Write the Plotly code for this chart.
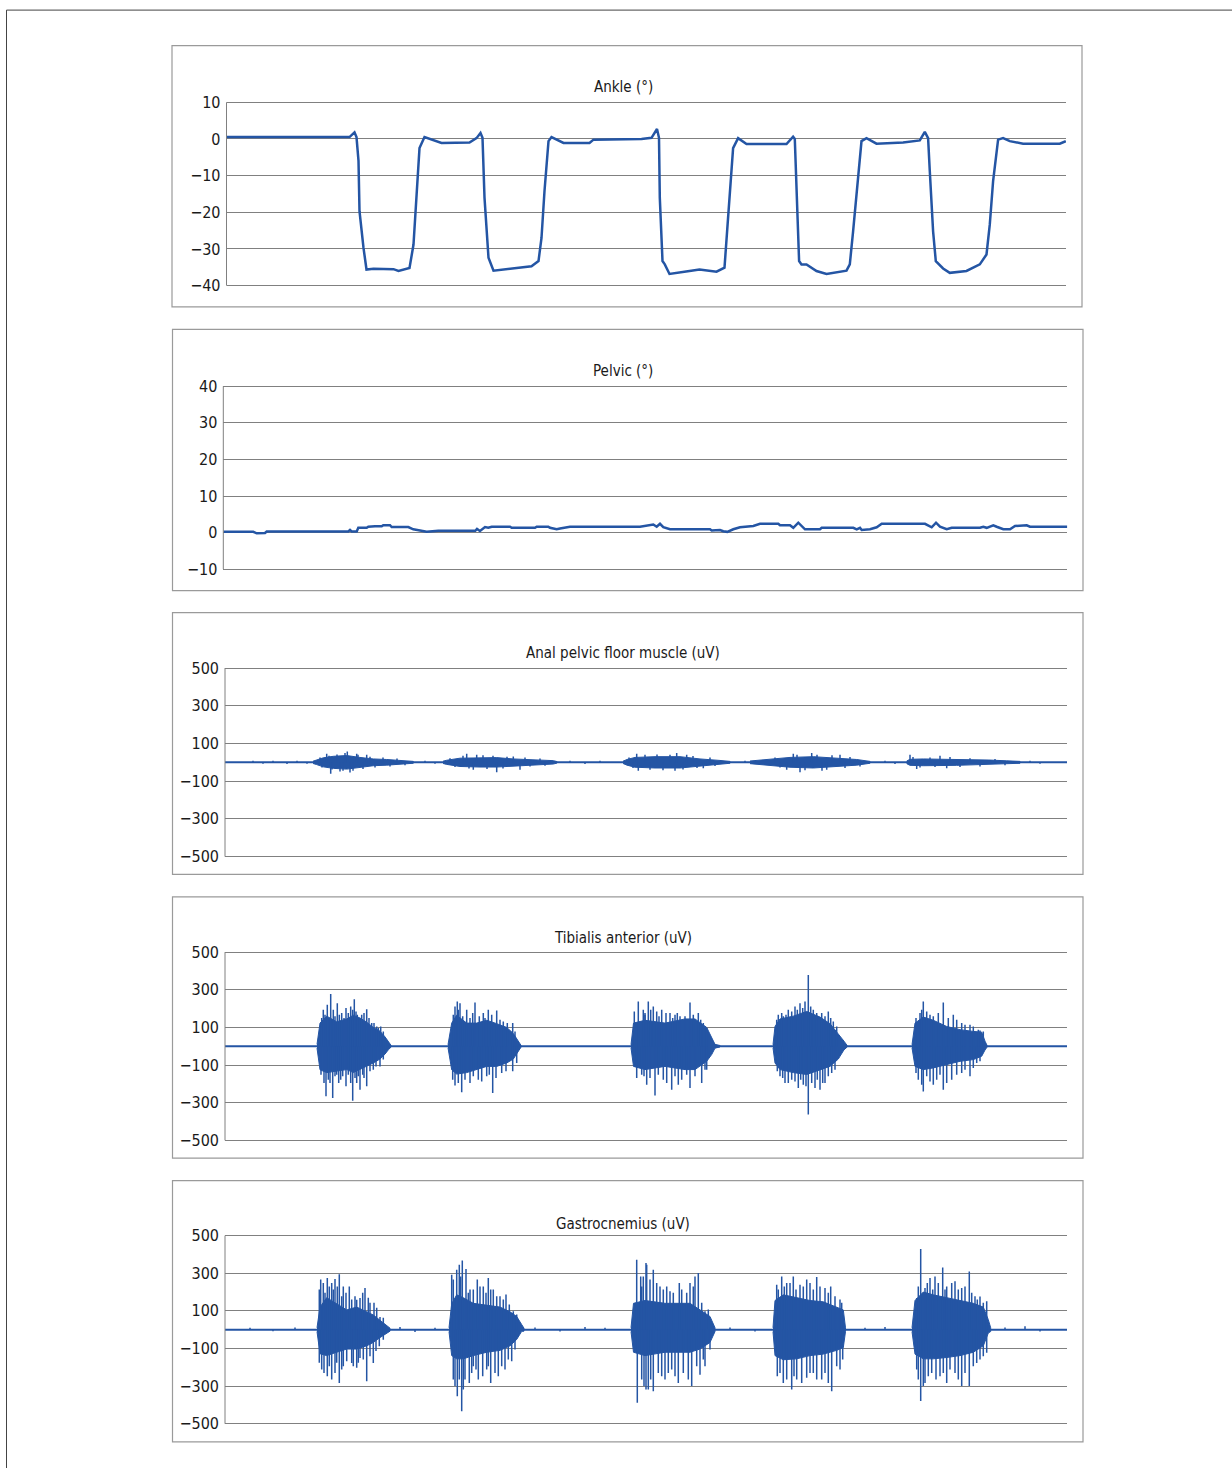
import plotly.graph_objects as go

W, H = 1232, 1475
BLUE = "#2455a4"
GRID = "#808080"
BOX = "#9a9a9a"
FONT = "DejaVu Sans Condensed, Liberation Sans Narrow, Arial Narrow, sans-serif"
FSIZE = 16
TSIZE = 15

# ---------------- DATA (time in samples) ----------------
ANKLE = [(0, 0.5), (123, 0.5), (128, 1.8), (130, 0.5), (132, -6), (133, -19.7), (137, -29.7), (140, -35.6),
         (147, -35.4), (167, -35.5), (172, -36), (183, -35.2), (187, -28.8), (190, -14.2), (193, -2.5),
         (198, 0.5), (207, -0.4), (215, -1.1), (243, -1.0), (250, 0.2), (254, 1.6), (256, 0.3), (258, -16),
         (262, -32.4), (267, -35.9), (287, -35.3), (305, -34.7), (312, -33.3), (315, -27), (318, -14.2),
         (322, -0.6), (325, 0.5), (337, -1.1), (363, -1.1), (367, -0.2), (415, 0), (425, 0.3), (430.5, 2.7),
         (432.5, 0.3), (433.3, -16), (436, -33.3), (438.3, -34.2), (443, -36.8), (463, -36), (473, -35.6),
         (490, -36.2), (498, -35.1), (500.6, -25.2), (503.3, -14.2), (506.6, -2.5), (511.6, 0.2), (520, -1.4),
         (560, -1.4), (564, -0.2), (566.6, 0.6), (568.3, 0), (570.6, -16), (572.6, -33.3), (575, -34.2),
         (580, -34.2), (590, -36), (600, -36.8), (620, -35.9), (623.3, -34.2), (626.6, -25.2), (631.6, -11.5),
         (635, -0.6), (640, 0.2), (650, -1.3), (676.6, -1.0), (693.3, -0.4), (698.3, 1.9), (701.6, 0.2),
         (703.3, -8.8), (706.6, -25.2), (709.3, -33.3), (716.6, -35.3), (723.3, -36.5), (740, -36),
         (753.3, -34.2), (760, -31.5), (763.3, -23.3), (766.6, -11.5), (771.6, -0.2), (776.6, 0.2),
         (783.3, -0.6), (796.6, -1.3), (833.3, -1.3), (839.3, -0.6)]

PELVIC = [(0, 0.2), (30, 0.2), (33.4, -0.2), (41.7, -0.1), (43.4, 0.3), (125, 0.3), (126.7, 0.7), (128.4, 0.3),
          (133.4, 0.3), (135, 1.3), (143.4, 1.3), (145, 1.6), (151.7, 1.7), (158.4, 1.7), (160, 2.0),
          (166.7, 2.0), (168.4, 1.5), (185, 1.5), (190, 0.9), (195, 0.7), (203.4, 0.2), (215, 0.5), (252, 0.5),
          (253.7, 1.0), (256.7, 0.45), (261.7, 1.5), (265, 1.3), (268.4, 1.6), (286.7, 1.6), (288.4, 1.3),
          (311.7, 1.3), (313.4, 1.6), (325, 1.6), (326.7, 1.3), (333.4, 0.9), (336.7, 1.1), (340, 1.3),
          (346.7, 1.6), (416.7, 1.6), (430, 2.2), (433.4, 1.6), (436.7, 2.4), (440, 1.5), (446.7, 0.9),
          (486.7, 0.9), (488.4, 0.55), (496.7, 0.7), (500, 0.36), (504, 0.2), (510, 0.9), (516.7, 1.45),
          (523.4, 1.6), (530, 1.8), (536.7, 2.4), (555, 2.4), (556.7, 2.0), (566.7, 2.0), (570, 1.3), (575, 2.7),
          (581.7, 0.9), (596.7, 0.9), (598.4, 1.3), (630, 1.3), (633.4, 0.9), (636.7, 1.3), (638.4, 0.7),
          (646.7, 0.9), (653.4, 1.45), (658.4, 2.4), (701.7, 2.4), (708.4, 1.45), (712.7, 2.7), (716.7, 1.6),
          (723.4, 0.9), (728.4, 1.3), (756.7, 1.3), (760, 1.6), (763.4, 1.3), (770, 2.0), (773.4, 1.6),
          (780, 0.9), (786.7, 0.9), (791.7, 1.8), (803.4, 2.0), (806.7, 1.6), (844, 1.6)]

# EMG bursts: dense core envelopes (t, upper, lower) and individual peaks (t, value)
APF_BURSTS = [
    [(88, 6, -6), (91.7, 12, -12), (98.3, 24, -24), (108.3, 32, -32), (121.7, 36, -36), (135, 26, -26),
     (148.3, 18, -18), (161.7, 15, -15), (175, 11, -11), (188.3, 5, -5)],
    [(218, 6, -6), (221.7, 11, -11), (235, 22, -22), (255, 25, -25), (271.7, 25, -25), (288.3, 18, -18),
     (308.3, 15, -15), (328.3, 9, -9), (332, 4, -4)],
    [(398, 6, -6), (402, 15, -15), (410, 26, -26), (430, 30, -30), (455, 30, -30), (475, 18, -18),
     (495, 10, -10), (505, 5, -5)],
    [(525, 7, -7), (545, 15, -15), (565, 26, -26), (588.3, 30, -30), (615, 22, -22), (631.7, 15, -15),
     (645, 5, -5)],
    [(681.7, 7, -7), (685, 16, -16), (698.3, 18, -18), (731.7, 16, -16), (765, 12, -12), (781.7, 8, -8),
     (795, 5, -5)],
]
APF_PEAKS = [(101.7, 45), (105.7, -61), (115, -49), (122.3, 57), (125, -54), (131.7, 45), (141.7, 40),
             (95, 25), (97, -28), (104, 35), (107, -38), (112, 42), (118, -44), (120, 50), (128, -45), (133, 40),
             (138, -35), (145, 30), (150, -28), (158, 25), (165, -22), (172, 20), (180, -15),
             (241.7, 45), (248.3, -40), (251.7, 40), (271.7, -53), (288.3, 31), (295, -40),
             (225, 22), (230, -25), (238, 35), (244, -33), (258, 38), (262, -35), (268, 35), (278, -33), (282, 30),
             (300, 25), (305, -22), (315, 20), (320, -18),
             (411.7, 45), (413.3, -44), (450, -44), (451.7, 49), (461.7, 40), (478.3, -31),
             (404, 25), (408, -30), (420, 40), (425, -40), (432, 42), (438, -42), (445, 40), (458, -38), (468, 33),
             (472, -30), (485, 25), (490, -20),
             (561.7, -40), (568.3, 45), (575, -53), (586.7, 49), (601.7, -40), (615, 40),
             (550, 25), (555, -28), (572, 40), (580, -42), (592, 40), (597, -45), (607, 38), (620, -30), (625, 28),
             (635, -22),
             (685, 40), (691.7, -36), (715, 35), (721.7, -31),
             (688, 28), (695, -28), (705, 25), (710, -25), (725, 28), (735, -25), (745, 22), (755, -22), (770, 18),
             (780, -15),
             (28, 9), (38, -8), (48, 8), (62, -9), (72, 9), (82, -8), (200, 9), (210, -8), (345, 8), (360, -9),
             (375, 8), (520, 9), (530, -8), (660, 8), (670, -9), (805, 8), (815, -8)]

TA_BURSTS = [
    [(92, 10, -10), (95, 123, -125), (101.7, 160, -140), (111.7, 130, -130), (121.7, 145, -124),
     (128.3, 165, -140), (135, 150, -124), (141.7, 128, -107), (148.3, 100, -89), (155, 80, -68),
     (160, 50, -42), (163.3, 25, -19), (166, 5, -5)],
    [(223, 8, -8), (226.7, 123, -125), (231.7, 165, -148), (241.7, 123, -140), (251.7, 123, -125),
     (261.7, 138, -107), (271.7, 120, -107), (281.7, 100, -89), (288.3, 68, -68), (293.3, 27, -27),
     (296, 5, -5)],
    [(406, 8, -8), (408.5, 123, -107), (420, 138, -124), (440, 123, -107), (460, 145, -124),
     (470, 145, -124), (481.7, 100, -80), (486.7, 44, -44), (490, 10, -10), (495, 4, -4)],
    [(548, 8, -8), (550, 105, -89), (555, 145, -124), (568.3, 160, -140), (581.7, 185, -150),
     (595, 155, -124), (605, 120, -107), (613.3, 68, -68), (619, 27, -19), (622, 5, -5)],
    [(687, 8, -8), (690, 123, -107), (698.3, 155, -124), (708.3, 138, -115), (721.7, 105, -98),
     (735, 88, -80), (748.3, 79, -71), (756.7, 75, -53), (760, 27, -20), (762, 5, -5)],
]
TA_PEAKS = [(98.3, 194), (102.3, 220), (105.7, 277), (108.3, 194), (112.3, 229), (116.7, 176), (121, 203),
            (125.7, 211), (129.3, 250), (132.3, 167), (136.7, 167), (141.7, 197), (146.7, 123), (151.7, 105),
            (155.7, 105), (101, -266), (105, -195), (107.7, -275), (110, -160), (115.7, -178), (121, -213),
            (127.7, -289), (131.7, -195), (135, -231), (139, -169), (141.7, -213), (148.3, -125), (155, -107),
            (96.7, 150), (100, 167), (104, 141), (110, 159), (114.3, 167), (119, 150), (123.3, 176), (127.7, 194),
            (131, 185), (134.3, 150), (139, 176), (144, 150), (149, 123), (153.3, 97), (158.3, 79),
            (96, -151), (99, -195), (103.3, -178), (111.7, -151), (113.7, -195), (117.7, -160), (123.3, -151),
            (125.7, -195), (130, -169), (133.3, -160), (137.7, -151), (145, -133), (151, -107), (158.3, -71),
            (230, 211), (232.3, 238), (235, 229), (241.7, 194), (250, 232), (258.3, 176), (263.3, 194),
            (271.7, 190), (278.3, 132), (287.7, 123), (230, -209), (236.7, -245), (245, -195), (253.3, -178),
            (261.7, -160), (267.7, -248), (276.7, -142), (287.7, -133),
            (228.3, 167), (233.3, 194), (237.7, 159), (245, 150), (247.7, 176), (254.3, 159), (260, 150),
            (266.7, 167), (275, 141), (282.3, 123), (290, 79),
            (227.7, -178), (233.3, -195), (240, -178), (248.3, -160), (256.7, -187), (264.3, -151), (271, -169),
            (281, -133), (291.7, -89),
            (409.3, 185), (413.3, 238), (420, 176), (418.3, 194), (423.3, 238), (428.3, 211), (431.7, 185),
            (436.7, 194), (445, 176), (450, 167), (455, 159), (465, 232), (473.3, 176), (478.3, 123),
            (411.7, -169), (416.7, -151), (421.7, -204), (430, -262), (438.3, -178), (446.7, -231),
            (456.7, -178), (465, -222), (476.7, -195), (481.7, -125),
            (420, 167), (425.7, 194), (434, 159), (441, 176), (447.7, 150), (452.3, 176), (460, 159),
            (468.3, 167), (475.7, 141), (481.7, 97),
            (419, -160), (425, -169), (433.3, -151), (441.7, -195), (450, -160), (453.3, -204), (461.7, -151),
            (470, -160), (480, -125),
            (553.3, 167), (558.3, 159), (563.3, 194), (570, 211), (575, 229), (580, 238), (583.3, 379),
            (588.3, 194), (596.7, 176), (603.3, 185), (608.3, 132), (555, -160), (560, -195), (566.7, -178),
            (573.3, -222), (578.3, -204), (583.3, -363), (590, -222), (595, -231), (600, -195), (606.7, -142),
            (551.7, 141), (556.7, 176), (561, 167), (566.7, 185), (572.3, 194), (577.7, 203), (585.7, 211),
            (591.7, 176), (600, 159), (605.7, 150), (611.7, 105),
            (552.3, -133), (557.7, -169), (563.3, -195), (570, -187), (575.7, -178), (581, -213), (586.7, -195),
            (592.3, -178), (597.7, -195), (603.3, -160), (610, -125),
            (695, 176), (698.3, 238), (701.7, 185), (708.3, 159), (718.3, 232), (728.3, 167), (736.7, 123),
            (745, 114), (755, 84), (693.3, -178), (698.3, -240), (705, -187), (711.7, -178), (718.3, -231),
            (726.7, -178), (736.7, -142), (745, -160), (751.7, -89),
            (691, 150), (696.7, 194), (705, 167), (713.3, 176), (723.3, 150), (731.7, 141), (740, 114),
            (748.3, 105), (753.3, 88), (758.3, 79),
            (691, -142), (696.7, -204), (701.7, -160), (708.3, -204), (715, -151), (721.7, -195), (731.7, -151),
            (740, -125), (748.3, -115), (755, -80)]

GA_BURSTS = [
    [(92, 10, -10), (95, 120, -128), (101.7, 170, -138), (111.7, 138, -120), (121.7, 105, -103),
     (131.7, 120, -103), (141.7, 95, -86), (148.3, 78, -68), (155, 50, -42), (161.7, 25, -18), (165, 8, -8)],
    [(224, 10, -10), (226.7, 138, -138), (231.7, 185, -155), (238.3, 170, -155), (248.3, 140, -138),
     (261.7, 130, -120), (275, 120, -110), (285, 95, -86), (291.7, 70, -52), (296.7, 27, -9), (299, 8, -8)],
    [(406, 10, -10), (408.5, 140, -120), (420, 155, -138), (440, 140, -120), (465, 140, -120),
     (475, 105, -103), (485, 70, -68), (490, 10, -10)],
    [(548, 10, -10), (550, 155, -138), (558.3, 185, -160), (571.7, 170, -155), (585, 155, -138),
     (598.3, 148, -130), (611.7, 120, -110), (618.3, 105, -95), (620.5, 10, -10)],
    [(687, 10, -10), (690, 155, -130), (698.3, 200, -155), (708.3, 185, -155), (721.7, 170, -148),
     (735, 155, -138), (748.3, 140, -120), (758.3, 120, -86), (763.3, 53, -18), (765.7, 10, -10)],
]
GA_PEAKS = [(95.7, 266), (98.3, 248), (102.3, 275), (106.7, 248), (110, 269), (114.3, 294), (118.3, 230),
            (124.3, 230), (131.7, 159), (135, 168), (140, 221), (145, 143), (149, 143), (155, 67),
            (96.7, -212), (102.3, -247), (106.7, -265), (110, -230), (114.3, -283), (118.3, -194),
            (126.7, -177), (131.7, -203), (135, -150), (141.7, -274), (148.3, -177), (154.3, -88),
            (94.3, 213), (100, 196), (104.3, 230), (108.3, 213), (112.3, 230), (116.7, 178), (121, 196),
            (126.7, 160), (130, 178), (137.7, 196), (143.3, 170), (151.7, 116), (158.3, 63),
            (94.3, -176), (99, -230), (104.3, -194), (111.7, -176), (116.7, -212), (121.7, -168), (128.3, -194),
            (133.3, -176), (138.3, -159), (145, -141), (151, -114), (158.3, -53),
            (226.7, 292), (231.7, 319), (234.3, 345), (237.3, 368), (241, 322), (245, 213), (252.3, 266),
            (258.3, 230), (263.3, 275), (268.3, 213), (275, 178), (281, 187), (288.3, 98),
            (228.3, -265), (232.3, -354), (236.7, -433), (240, -265), (244.3, -283), (248.3, -194),
            (253.3, -265), (261.7, -212), (265.7, -283), (273.3, -247), (280, -212), (286.7, -168),
            (228.3, 266), (235.7, 283), (243.3, 196), (248.3, 213), (255, 230), (261, 196), (265.7, 213),
            (271.7, 178), (278.3, 160), (284.3, 134), (291.7, 80),
            (230, -300), (234.3, -265), (238.3, -318), (246.7, -230), (251, -212), (257.7, -247), (263.3, -194),
            (270, -230), (276.7, -194), (283.3, -159), (290, -105),
            (411.7, 372), (415.7, 283), (421, 354), (418.3, 283), (421.7, 345), (428.3, 319), (435, 230),
            (445, 204), (454.3, 248), (465, 248), (470, 283), (473.3, 301), (480, 98),
            (412.3, -389), (421, -318), (416.7, -265), (423.3, -318), (428.3, -327), (436.7, -247),
            (443.3, -230), (453.3, -283), (466.7, -300), (475, -239), (480, -194),
            (416.7, 230), (425, 266), (431.7, 248), (438.3, 213), (441.7, 230), (448.3, 196), (456.7, 213),
            (461.7, 196), (468.3, 230), (476.7, 143), (483.3, 107),
            (419, -300), (425.7, -265), (433.3, -230), (440, -265), (446.7, -212), (450, -247), (458.3, -230),
            (463.3, -265), (471.7, -194), (478.3, -159), (485, -105),
            (551.7, 239), (556.7, 283), (561.7, 248), (568.3, 283), (575, 239), (581.7, 266), (591.7, 280),
            (600, 221), (605.7, 230), (615, 160), (552.3, -247), (558.3, -283), (566.7, -318), (571.7, -265),
            (581.7, -256), (588.3, -230), (596.7, -265), (606.7, -327), (615, -212),
            (553.3, 213), (559.3, 230), (565, 248), (571, 213), (578.3, 230), (585, 248), (588.3, 213),
            (595, 230), (603.3, 196), (610, 178), (616.7, 143),
            (555, -230), (561.7, -265), (569, -247), (576.7, -283), (585, -230), (591.7, -265), (600, -230),
            (603.3, -283), (611.7, -194), (617.7, -159),
            (691.7, 168), (695.7, 429), (700, 221), (705, 275), (710, 283), (717.7, 331), (721.7, 230),
            (730, 257), (736.7, 221), (744.3, 309), (750, 178), (755, 176), (761.7, 151),
            (691.7, -212), (695.7, -379), (700, -283), (706.7, -230), (715, -247), (725, -212), (736.7, -300),
            (744.3, -300), (751.7, -177), (758.3, -141),
            (693.3, 230), (702.3, 248), (707.7, 213), (713.3, 248), (720, 213), (726.7, 248), (733.3, 213),
            (740, 230), (746.7, 196), (752.3, 160), (758.3, 143),
            (693.3, -265), (698.3, -300), (703.3, -247), (711, -265), (718.3, -230), (721.7, -283), (730, -230),
            (733.3, -265), (740, -230), (748.3, -194), (755, -159), (761.7, -123),
            (25, 10), (48, -9), (70, 12), (175, 14), (190, -12), (210, 10), (310, 12), (335, -10), (360, 14),
            (380, 10), (505, 12), (530, -10), (640, 10), (660, 14), (780, 12), (800, 18), (815, -10)]

TITLES = ["Ankle (°)", "Pelvic (°)", "Anal pelvic floor muscle (uV)", "Tibialis anterior (uV)",
          "Gastrocnemius (uV)"]
ANKLE_TICKS = [-40, -30, -20, -10, 0, 10]
PELVIC_TICKS = [-10, 0, 10, 20, 30, 40]
EMG_TICKS = [-500, -300, -100, 100, 300, 500]

# ---------------- LAYOUT GEOMETRY (pixels) ----------------
PANELS = [
    dict(box=(172, 45, 1082, 306.5), plot=(226.5, 101.7, 1066, 285.3), title_y=86),
    dict(box=(172.5, 329, 1083, 590.5), plot=(223.3, 386, 1067.3, 569), title_y=371),
    dict(box=(172.5, 612.5, 1083, 874.5), plot=(225, 668, 1067, 856.7), title_y=653),
    dict(box=(172.5, 897, 1083, 1158.5), plot=(225, 952.3, 1067, 1140.7), title_y=938),
    dict(box=(172.5, 1181, 1083, 1442.5), plot=(225, 1236, 1067, 1424.3), title_y=1224),
]
TITLE_X = 623
PAD = 3  # px of extra room so the end gridlines are drawn
# vertical calibration of the page photo (observed: y_photo ~= 0.992*y + 5.4)
CAL_S, CAL_O = 0.992, 5.4

fig = go.Figure()


def px(x):
    return x / W


def py(y):
    return 1 - ((y - CAL_O) / CAL_S) / H


def add_emg(i, bursts, peaks):
    xa, ya = f"x{i}", f"y{i}"
    width = PANELS[i - 1]["plot"][2] - PANELS[i - 1]["plot"][0]
    fig.add_trace(go.Scatter(x=[0, width], y=[0, 0], mode="lines", line=dict(color=BLUE, width=2),
                             xaxis=xa, yaxis=ya, hoverinfo="skip", showlegend=False))
    for b in bursts:
        t = [p[0] for p in b]
        up = [p[1] for p in b]
        lo = [p[2] for p in b]
        fig.add_trace(go.Scatter(x=t + t[::-1], y=up + lo[::-1], mode="lines", fill="toself",
                                 fillcolor=BLUE, line=dict(color=BLUE, width=1),
                                 xaxis=xa, yaxis=ya, hoverinfo="skip", showlegend=False))
    sx, sy = [], []
    for t, v in sorted(peaks):
        sx += [t, t, None]
        sy += [0, v, None]
    fig.add_trace(go.Scatter(x=sx, y=sy, mode="lines", line=dict(color=BLUE, width=1.5),
                             xaxis=xa, yaxis=ya, hoverinfo="skip", showlegend=False))


fig.add_trace(go.Scatter(x=[p[0] for p in ANKLE], y=[p[1] for p in ANKLE], mode="lines",
                         line=dict(color=BLUE, width=2.5), xaxis="x1", yaxis="y1", showlegend=False))
fig.add_trace(go.Scatter(x=[p[0] for p in PELVIC], y=[p[1] for p in PELVIC], mode="lines",
                         line=dict(color=BLUE, width=2.5), xaxis="x2", yaxis="y2", showlegend=False))
add_emg(3, APF_BURSTS, APF_PEAKS)
add_emg(4, TA_BURSTS, TA_PEAKS)
add_emg(5, GA_BURSTS, GA_PEAKS)

ticksets = [ANKLE_TICKS, PELVIC_TICKS, EMG_TICKS, EMG_TICKS, EMG_TICKS]
layout = dict(width=W, height=H, autosize=False, margin=dict(l=0, r=0, t=0, b=0, pad=0),
              paper_bgcolor="white", plot_bgcolor="white", showlegend=False,
              font=dict(family=FONT, size=FSIZE, color="#1a1a1a"))
shapes, annotations = [], []
for i, (p, ticks) in enumerate(zip(PANELS, ticksets), start=1):
    x0, y0, x1, y1 = p["plot"]
    lo, hi = min(ticks), max(ticks)
    eps = PAD * (hi - lo) / (y1 - y0)
    layout[f"xaxis{i}"] = dict(domain=[px(x0), px(x1)], range=[0, x1 - x0], anchor=f"y{i}",
                               visible=False, fixedrange=True)
    layout[f"yaxis{i}"] = dict(domain=[py(y1 + PAD), py(y0 - PAD)], range=[lo - eps, hi + eps],
                               anchor=f"x{i}", tickvals=ticks, showgrid=True, gridcolor=GRID, gridwidth=1,
                               zeroline=False, showline=False, ticks="",
                               ticklabelstandoff=5, tickfont=dict(family=FONT, size=FSIZE, color="#1a1a1a"),
                               fixedrange=True)
    shapes.append(dict(type="line", xref="paper", yref="paper", x0=px(x0), x1=px(x0), y0=py(y1), y1=py(y0),
                       line=dict(color=GRID, width=1)))
    bx0, by0, bx1, by1 = p["box"]
    shapes.append(dict(type="rect", xref="paper", yref="paper", x0=px(bx0), x1=px(bx1), y0=py(by1),
                       y1=py(by0), line=dict(color=BOX, width=1.2), layer="below"))
    annotations.append(dict(text=TITLES[i - 1], x=px(TITLE_X), y=py(p["title_y"]), xref="paper", yref="paper",
                            showarrow=False, xanchor="center", yanchor="middle",
                            font=dict(family=FONT, size=TSIZE, color="#1a1a1a")))

# outer frame
shapes.append(dict(type="line", xref="paper", yref="paper", x0=px(6.5), x1=1, y0=py(9.5), y1=py(9.5),
                   line=dict(color="#444", width=1)))
shapes.append(dict(type="line", xref="paper", yref="paper", x0=px(6.5), x1=px(6.5), y0=0, y1=py(9.5),
                   line=dict(color="#444", width=1)))
layout["shapes"] = shapes
layout["annotations"] = annotations
fig.update_layout(**layout)
fig.write_html("out.html", config={"displayModeBar": False, "responsive": False},
               post_script="document.body.style.margin='0';document.documentElement.style.overflow='hidden';"
                           "document.body.style.overflow='hidden';")
